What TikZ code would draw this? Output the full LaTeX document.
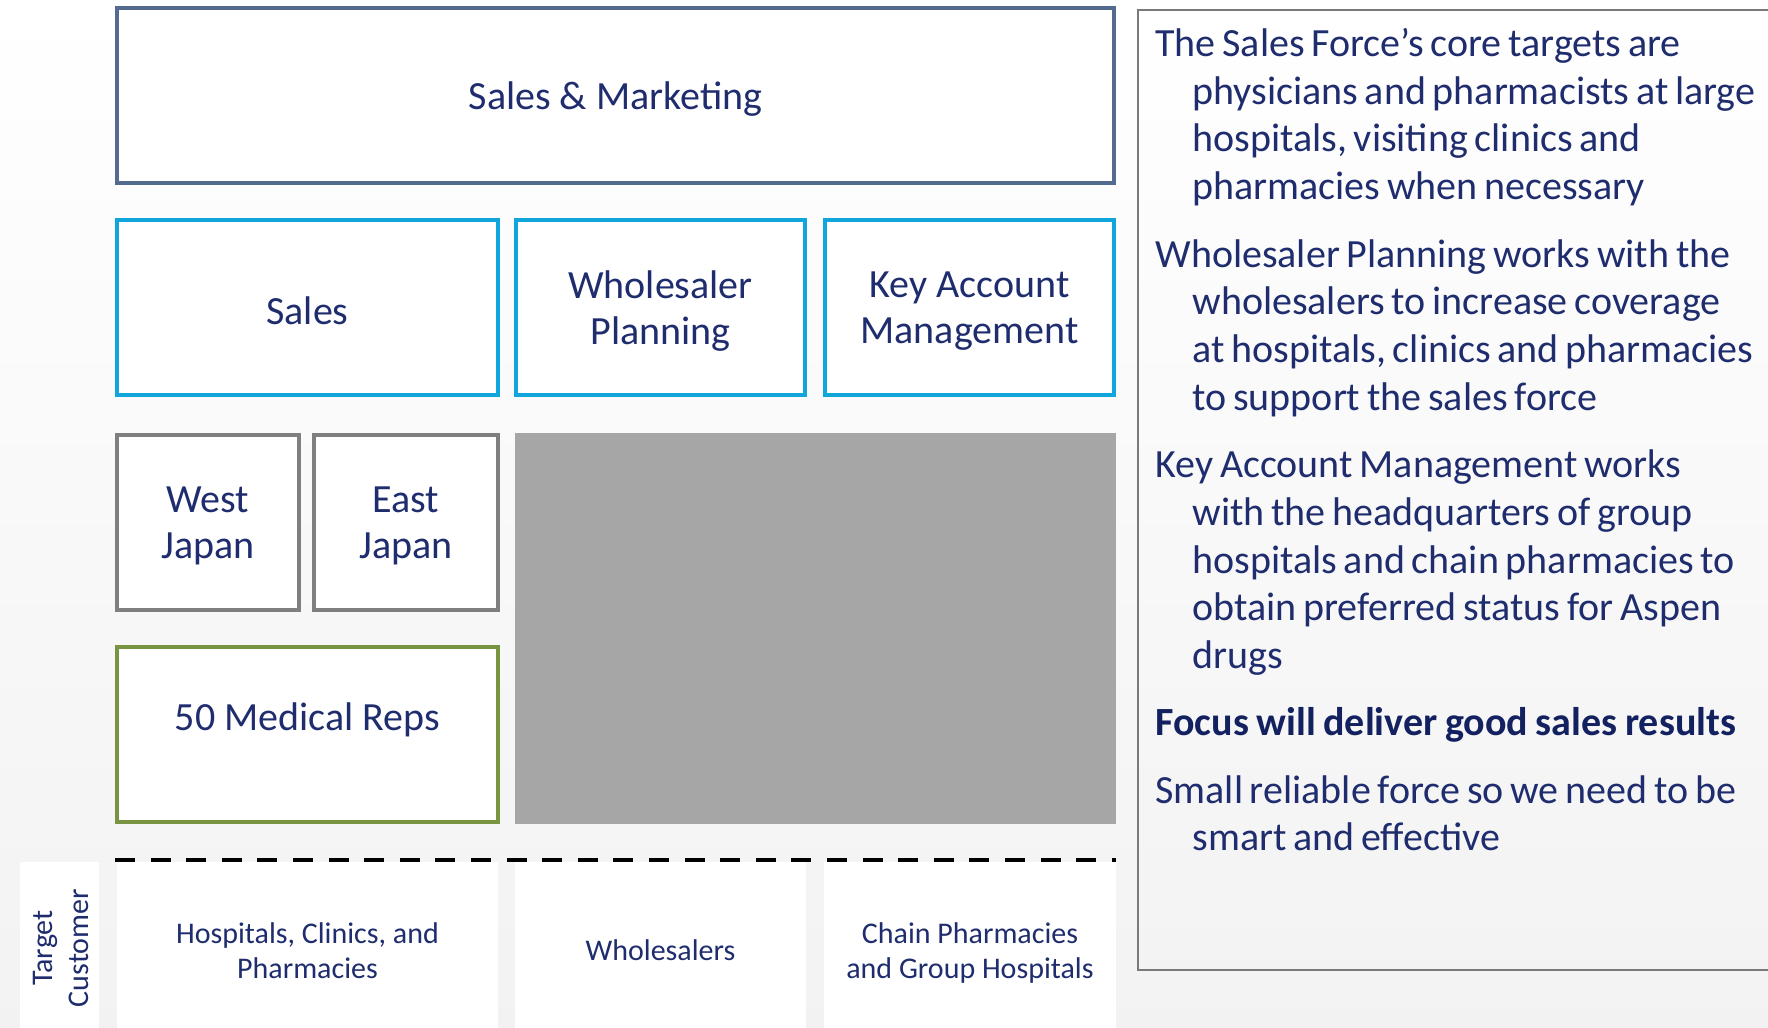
\documentclass[tikz,border=0pt]{standalone}
\usepackage{fontspec}
\setmainfont{Carlito}
\definecolor{txt}{HTML}{1F2D6E}
\definecolor{txtb}{HTML}{132160}
\definecolor{smblue}{HTML}{536B8E}
\definecolor{cyanb}{HTML}{10A6DC}
\definecolor{grayb}{HTML}{7F7F7F}
\definecolor{greenb}{HTML}{789440}
\definecolor{grayfill}{HTML}{A6A6A6}
\definecolor{framec}{HTML}{7A7A7A}
\newcommand\npara[1]{\hangindent=18.5pt\hangafter=1\relax #1\par}
\begin{document}
\begin{tikzpicture}[x=0.5pt,y=-0.5pt,
  lbl/.style={text=txt, font=\fontsize{20}{23}\selectfont, align=center},
  orgbox/.style={draw, line width=2.2pt, fill=white, inner sep=0pt},
  custbox/.style={fill=white, inner sep=0pt},
  custlbl/.style={text=txt, font=\fontsize{15}{17.5}\selectfont, align=center},
  sepline/.style={line width=2.3pt, dash pattern=on 10pt off 7.8pt}]
\useasboundingbox (0,0) rectangle (1768,1028);
\clip (0,0) rectangle (1768,1028);
\shade[top color=white, bottom color=gray!10] (0,0) rectangle (1768,1028);

% top level
\node[orgbox, draw=smblue, minimum width=498.5pt, minimum height=87.5pt] (sm) at (615.5,95.5) {};
\node[lbl] (smt) at ([yshift=-1.7pt]sm.center) {Sales \& Marketing};
% second level
\node[orgbox, draw=cyanb, minimum width=190.5pt, minimum height=87.5pt] (sales) at (307.5,307.5) {};
\node[lbl] (salest) at ([yshift=-1.5pt]sales.center) {Sales};
\node[orgbox, draw=cyanb, minimum width=144.5pt, minimum height=87.5pt] (wp) at (660.5,307.5) {};
\node[lbl] (wpt) at ([yshift=-2pt]wp.center) {Wholesaler\\Planning};
\node[orgbox, draw=cyanb, minimum width=144.5pt, minimum height=87.5pt] (kam) at (969.5,307.5) {};
\node[lbl] (kamt) at ([yshift=-2pt]kam.center) {Key Account\\Management};
% third level
\node[orgbox, draw=grayb, minimum width=91pt, minimum height=87.5pt] (wj) at (208,522.5) {};
\node[lbl] (wjt) at ([yshift=-1.8pt]wj.center) {West\\Japan};
\node[orgbox, draw=grayb, minimum width=92pt, minimum height=87.5pt] (ej) at (406,522.5) {};
\node[lbl] (ejt) at ([yshift=-1.8pt]ej.center) {East\\Japan};
\node[fill=grayfill, inner sep=0pt, minimum width=300.5pt, minimum height=195.5pt] (grey) at (815.5,628.5) {};
\node[orgbox, draw=greenb, minimum width=190.5pt, minimum height=87.5pt] (mr) at (307.5,734.5) {};
\node[lbl] (mrt) at (307.5,719.5) {50 Medical Reps};

% target customers
\node[custbox, minimum width=39.5pt, minimum height=83pt] (tc) at (59.5,945) {};
\node[custlbl, rotate=90, font=\fontsize{15}{18}\selectfont] (tct) at (61,948) {Target\\Customer};
\node[custbox, minimum width=190.5pt, minimum height=83pt] (hosp) at (307.5,945) {};
\node[custlbl] (hospt) at (307.5,950.6) {Hospitals, Clinics, and\\Pharmacies};
\node[custbox, minimum width=145.5pt, minimum height=83pt] (whole) at (660.5,945) {};
\node[custlbl] (wholet) at (660.5,950.6) {Wholesalers};
\node[custbox, minimum width=146pt, minimum height=83pt] (chain) at (970,945) {};
\node[custlbl] (chaint) at (970,952.5) {Chain Pharmacies\\and Group Hospitals};

\coordinate (dl) at (115,860);
\coordinate (dr) at (1116,860);
\draw[sepline] (dl) -- (dr);

% right notes
\node[draw=framec, line width=1.2pt, inner sep=0pt, minimum width=326pt, minimum height=480pt] (frame) at (1464,490) {};
\node[anchor=north west, inner sep=0pt, text width=330pt, align=left, text=txt,
      font=\fontsize{20}{23.9}\selectfont] (notes) at (1155,16) {%
\setlength{\parskip}{9.7pt}\spaceskip=0.17em\relax
\npara{\rule{0pt}{20pt}The Sales Force’s core targets are\newline physicians and pharmacists at large\newline hospitals, visiting clinics and\newline pharmacies when necessary}%
\npara{Wholesaler Planning works with the\newline wholesalers to increase coverage\newline at hospitals, clinics and pharmacies\newline to support the sales force}%
\npara{Key Account Management works\newline with the headquarters of group\newline hospitals and chain pharmacies to\newline obtain preferred status for Aspen\newline drugs}%
\npara{\textcolor{txtb}{\bfseries\spaceskip=0.19em\relax Focus will deliver good sales results}}%
\npara{Small reliable force so we need to be\newline smart and effective}};
\end{tikzpicture}
\end{document}
